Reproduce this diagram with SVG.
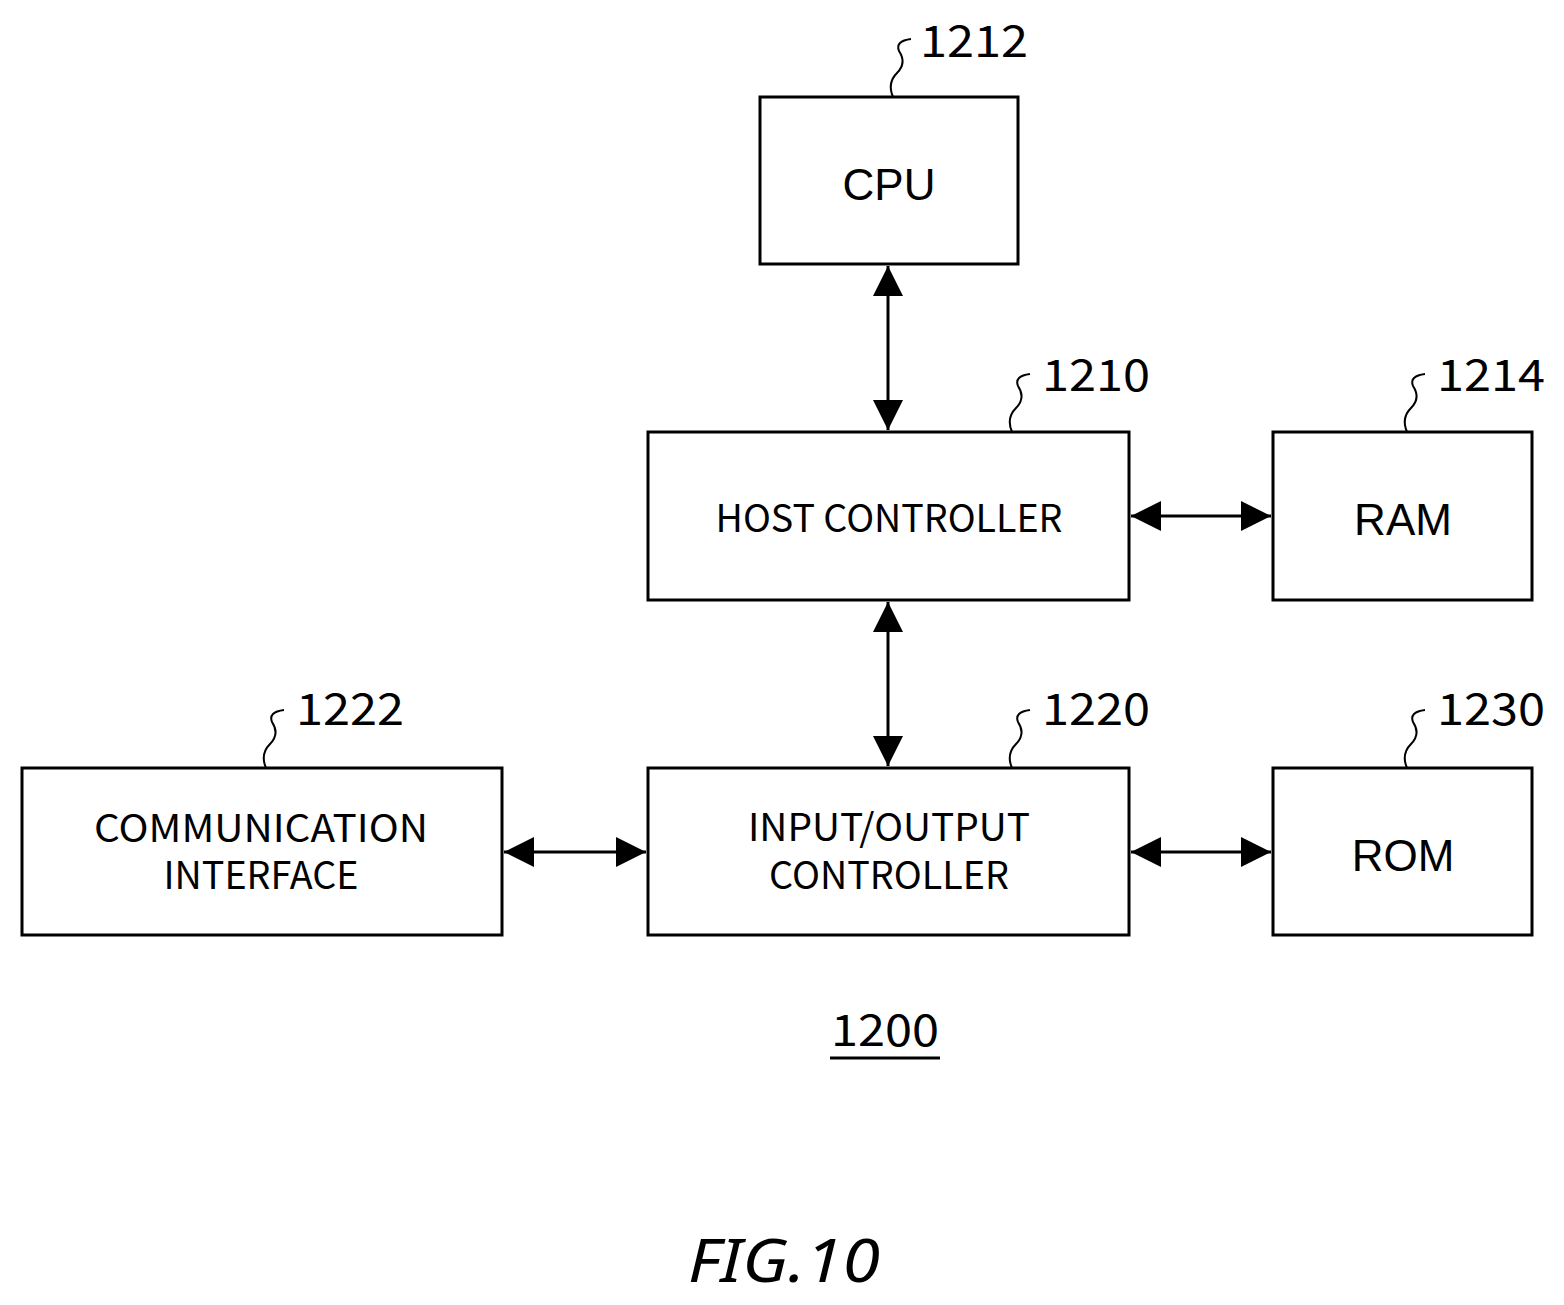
<svg xmlns="http://www.w3.org/2000/svg" width="1564" height="1305" viewBox="0 0 1564 1305">
<style>
.b{fill:#fff;stroke:#000;stroke-width:3}
.t{font-family:"Noto Sans CJK JP","Noto Sans",sans-serif;font-size:38px;text-anchor:middle}
.a{font-family:"Liberation Sans",Arial,sans-serif;font-size:44px;text-anchor:middle}
.n{font-family:"Noto Sans CJK JP","Noto Sans",sans-serif;font-size:44px}
.l{fill:none;stroke:#000;stroke-width:2}
.c{stroke:#000;stroke-width:3;marker-start:url(#m);marker-end:url(#m)}
</style>
<defs><marker id="m" viewBox="0 0 30 30" refX="30" refY="15" markerWidth="30" markerHeight="30" markerUnits="userSpaceOnUse" orient="auto-start-reverse"><path d="M0,0L30,15L0,30z"/></marker></defs>
<g id="connectors">
<line class="c" x1="888" y1="266" x2="888" y2="430"/>
<line class="c" x1="888" y1="602" x2="888" y2="766"/>
<line class="c" x1="1131" y1="516" x2="1271" y2="516"/>
<line class="c" x1="1131" y1="852" x2="1271" y2="852"/>
<line class="c" x1="504" y1="852" x2="646" y2="852"/>
</g>
<g id="cpu"><rect class="b" x="760" y="97" width="258" height="167"/><text class="a" x="889" y="200">CPU</text>
<path class="l" d="M893,97 q-6,-14 4,-24 q10,-10 2,-22 q-4,-10 12,-12"/><text class="n" x="920" y="57" textLength="108" lengthAdjust="spacingAndGlyphs">1212</text></g>
<g id="host"><rect class="b" x="648" y="432" width="481" height="168"/><text class="t" x="889" y="532" textLength="347" lengthAdjust="spacingAndGlyphs">HOST CONTROLLER</text>
<path class="l" d="M1012,432 q-6,-14 4,-24 q10,-10 2,-22 q-4,-10 12,-12"/><text class="n" x="1042" y="391" textLength="108" lengthAdjust="spacingAndGlyphs">1210</text></g>
<g id="ram"><rect class="b" x="1273" y="432" width="259" height="168"/><text class="a" x="1403" y="535">RAM</text>
<path class="l" d="M1407,432 q-6,-14 4,-24 q10,-10 2,-22 q-4,-10 12,-12"/><text class="n" x="1437" y="391" textLength="108" lengthAdjust="spacingAndGlyphs">1214</text></g>
<g id="io"><rect class="b" x="648" y="768" width="481" height="167"/><text class="t" x="889" y="841" textLength="282" lengthAdjust="spacingAndGlyphs">INPUT/OUTPUT</text><text class="t" x="889" y="889" textLength="240" lengthAdjust="spacingAndGlyphs">CONTROLLER</text>
<path class="l" d="M1012,768 q-6,-14 4,-24 q10,-10 2,-22 q-4,-10 12,-12"/><text class="n" x="1042" y="725" textLength="108" lengthAdjust="spacingAndGlyphs">1220</text></g>
<g id="rom"><rect class="b" x="1273" y="768" width="259" height="167"/><text class="a" x="1403" y="871">ROM</text>
<path class="l" d="M1407,768 q-6,-14 4,-24 q10,-10 2,-22 q-4,-10 12,-12"/><text class="n" x="1437" y="725" textLength="108" lengthAdjust="spacingAndGlyphs">1230</text></g>
<g id="comm"><rect class="b" x="22" y="768" width="480" height="167"/><text class="t" x="261" y="842" textLength="334" lengthAdjust="spacingAndGlyphs">COMMUNICATION</text><text class="t" x="261" y="889" textLength="195" lengthAdjust="spacingAndGlyphs">INTERFACE</text>
<path class="l" d="M266,768 q-6,-14 4,-24 q10,-10 2,-22 q-4,-10 12,-12"/><text class="n" x="296" y="725" textLength="108" lengthAdjust="spacingAndGlyphs">1222</text></g>
<g id="label"><text class="n" x="885" y="1046" text-anchor="middle" textLength="108" lengthAdjust="spacingAndGlyphs">1200</text><line x1="830" y1="1058" x2="940" y2="1058" stroke="#000" stroke-width="3"/>
<text x="784" y="1282" text-anchor="middle" textLength="192" lengthAdjust="spacingAndGlyphs" style="font-family:'Noto Sans','DejaVu Sans',sans-serif;font-style:italic;font-size:60px">FIG.10</text></g>
</svg>
